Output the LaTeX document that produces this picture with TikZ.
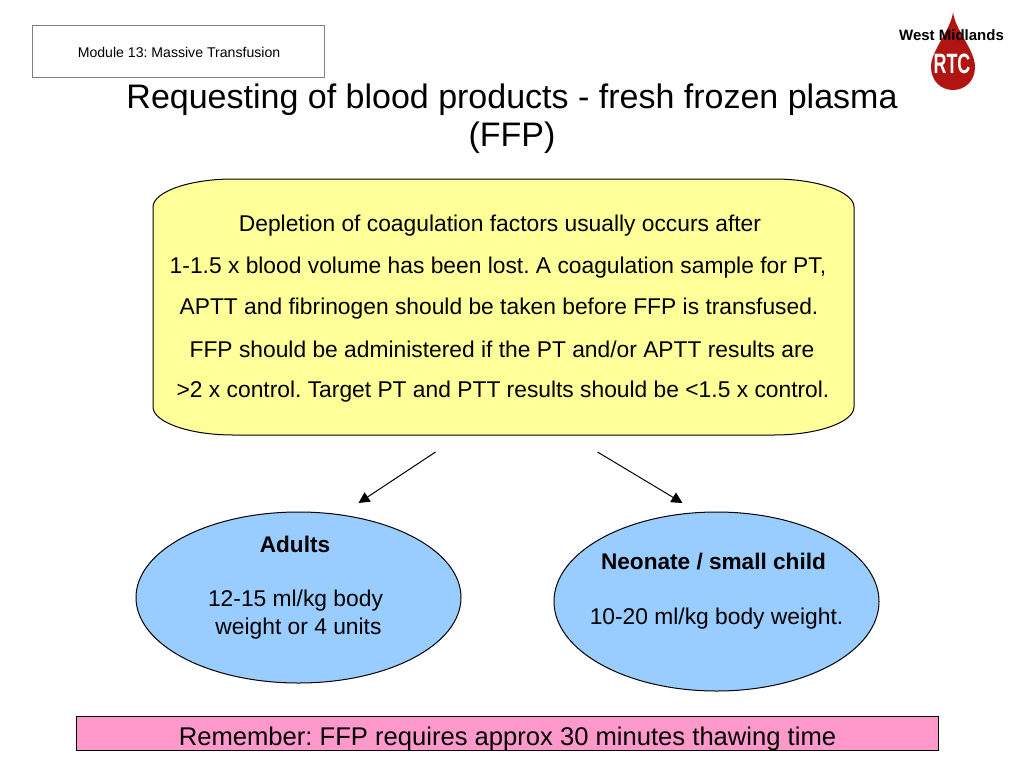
\documentclass[tikz,border=0pt]{standalone}
\usepackage{fontspec}
\setmainfont{Liberation Sans}
\usetikzlibrary{arrows.meta}
\definecolor{padyellow}{HTML}{FFFF99}
\definecolor{ovalblue}{HTML}{99CCFF}
\definecolor{notepink}{HTML}{FF99CC}
\definecolor{dropred}{HTML}{B01512}
\definecolor{edgegrey}{HTML}{808080}
\tikzset{
  lbl/.style={inner sep=0pt,anchor=center,text=black,font=\fontsize{22.8}{26}\selectfont},
  boldlbl/.style={lbl,font=\bfseries\fontsize{22.6}{26}\selectfont},
  ovalshape/.style={draw=black,line width=1pt,fill=ovalblue},
  arrowline/.style={draw=black,line width=1pt,-{Triangle[length=11pt,width=11pt]}},
}
\frenchspacing
\begin{document}
\begin{tikzpicture}[x=1pt,y=-1pt]
\useasboundingbox (0,0) rectangle (1024,768);
\fill[white] (0,0) rectangle (1024,768);
% module box
\node[draw=edgegrey,line width=0.7pt,minimum width=292pt,minimum height=52pt,inner sep=0pt] (module) at (178.7,51) {};
\node[lbl,font=\fontsize{14.1}{16}\selectfont] (moduletext) at (179,52.5) {Module 13: Massive Transfusion};
% logo
\fill[dropred] (953,12) .. controls (955,30) and (975,50) .. (975,67)
  .. controls (975,81) and (965,90) .. (953,90)
  .. controls (941,90) and (931,81) .. (931,67)
  .. controls (931,50) and (951,30) .. (953,12) -- cycle;
\node[lbl,text=white,font=\bfseries\fontsize{28}{30}\selectfont,xscale=0.64] (rtc) at (952,64) {RTC};
\node[lbl,font=\bfseries\fontsize{15}{17}\selectfont] (west) at (951.5,35) {West Midlands};
% title
\node[lbl,font=\fontsize{34}{40}\selectfont] (t1) at (512,99.5) {Requesting of blood products - fresh frozen plasma};
\node[lbl,font=\fontsize{34}{40}\selectfont] (t2) at (512,137.5) {(FFP)};
% yellow box
\draw[draw=black,line width=1pt,fill=padyellow] (233,179) -- (774,179)
  .. controls (818,179) and (854,192) .. (854,207) -- (854,407)
  .. controls (854,422) and (818,435) .. (774,435) -- (233,435)
  .. controls (189,435) and (153,422) .. (153,407) -- (153,207)
  .. controls (153,192) and (189,179) .. (233,179) -- cycle;
\node[lbl] (y1) at (500,226) {Depletion of coagulation factors usually occurs after};
\node[lbl] (y2) at (498,268) {1-1.5 x blood volume has been lost. A coagulation sample for PT,};
\node[lbl] (y3) at (499,309) {APTT and fibrinogen should be taken before FFP is transfused.};
\node[lbl] (y4) at (502,349) {FFP should be administered if the PT and/or APTT results are};
\node[lbl] (y5) at (503,392) {>2 x control. Target PT and PTT results should be <1.5 x control.};
% arrows
\coordinate (a1s) at (435.5,452);
\coordinate (a1e) at (358.5,503);
\coordinate (a2s) at (597.5,452);
\coordinate (a2e) at (682.5,503);
\draw[arrowline] (a1s) -- (a1e);
\draw[arrowline] (a2s) -- (a2e);
% ovals
\draw[ovalshape] (298.5,597.5) ellipse [x radius=162.5,y radius=85.5];
\draw[ovalshape] (716.5,601.5) ellipse [x radius=162.5,y radius=89.5];
\node[boldlbl] (adults) at (295,544) {Adults};
\node[lbl] (a2) at (295.5,601) {12-15 ml/kg body};
\node[lbl] (a3) at (298.5,629) {weight or 4 units};
\node[boldlbl] (neo) at (713.5,562) {Neonate / small child};
\node[lbl] (n2) at (716.5,619) {10-20 ml/kg body weight.};
% note
\node[draw=black,line width=0.7pt,fill=notepink,minimum width=862pt,minimum height=34pt,inner sep=0pt] (note) at (507.5,733) {};
\node[lbl,font=\fontsize{25.6}{30}\selectfont] (notetext) at (507.5,739) {Remember: FFP requires approx 30 minutes thawing time};
\end{tikzpicture}
\end{document}
